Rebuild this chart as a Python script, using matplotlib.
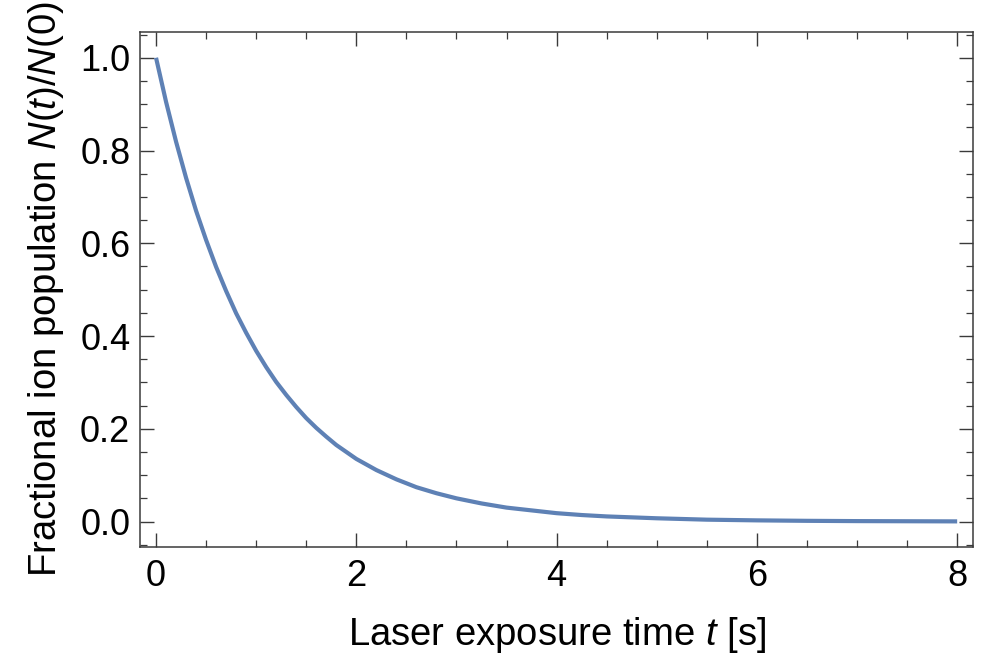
import numpy as np
import matplotlib.pyplot as plt
from matplotlib.ticker import MultipleLocator

# valores
t = [0, 0.1, 0.2, 0.3, 0.4, 0.5, 0.6, 0.7, 0.8, 0.9, 1.0,
     1.1, 1.2, 1.3, 1.4, 1.5, 1.6, 1.7, 1.8, 1.9, 2.0,
     2.2, 2.4, 2.6, 2.8, 3.0, 3.25, 3.5, 3.75, 4.0, 4.25, 4.5,
     5.0, 5.5, 6.0, 6.5, 7.0, 7.5, 8.0]
frac = [1.000, 0.905, 0.819, 0.741, 0.670, 0.607, 0.549, 0.497, 0.449, 0.407, 0.368,
        0.333, 0.301, 0.273, 0.247, 0.223, 0.202, 0.183, 0.165, 0.150, 0.135,
        0.111, 0.091, 0.074, 0.061, 0.050, 0.039, 0.030, 0.024, 0.018, 0.014, 0.011,
        0.007, 0.004, 0.0025, 0.0015, 0.0009, 0.0006, 0.0003]

plt.rcParams['font.family'] = ['Liberation Sans', 'DejaVu Sans']
plt.rcParams['mathtext.fontset'] = 'custom'
plt.rcParams['mathtext.rm'] = 'Liberation Sans'
plt.rcParams['mathtext.it'] = 'Liberation Sans:italic'

fig = plt.figure(figsize=(9.86, 6.58), dpi=100)
ax = fig.add_axes([0.142, 0.169, 0.845, 0.782])

ax.plot(t, frac, color='#5E81B5', linewidth=3.0, solid_capstyle='butt')

ax.set_xlim(-0.16, 8.16)
ax.set_ylim(-0.0545, 1.055)
ax.xaxis.set_major_locator(MultipleLocator(2))
ax.xaxis.set_minor_locator(MultipleLocator(0.5))
ax.yaxis.set_major_locator(MultipleLocator(0.2))
ax.yaxis.set_minor_locator(MultipleLocator(0.05))
ax.yaxis.set_major_formatter(plt.FuncFormatter(lambda v, p: f'{v:.1f}'))

frame = '#3a3a3a'
for s in ax.spines.values():
    s.set_color(frame)
    s.set_linewidth(1.1)
ax.tick_params(which='both', direction='in', top=True, right=True,
               color=frame, labelsize=26)
ax.tick_params(axis='y', pad=7)
ax.tick_params(axis='x', pad=9)
ax.tick_params(which='major', length=10, width=1.0)
ax.tick_params(which='minor', length=5, width=0.9)

ax.set_xlabel(r'Laser exposure time $t$ [s]', fontsize=27.5, labelpad=15)
ax.set_ylabel(r'Fractional ion population $N(t)/N(0)$', fontsize=27.5, labelpad=10)

plt.savefig('out.png', dpi=100)
